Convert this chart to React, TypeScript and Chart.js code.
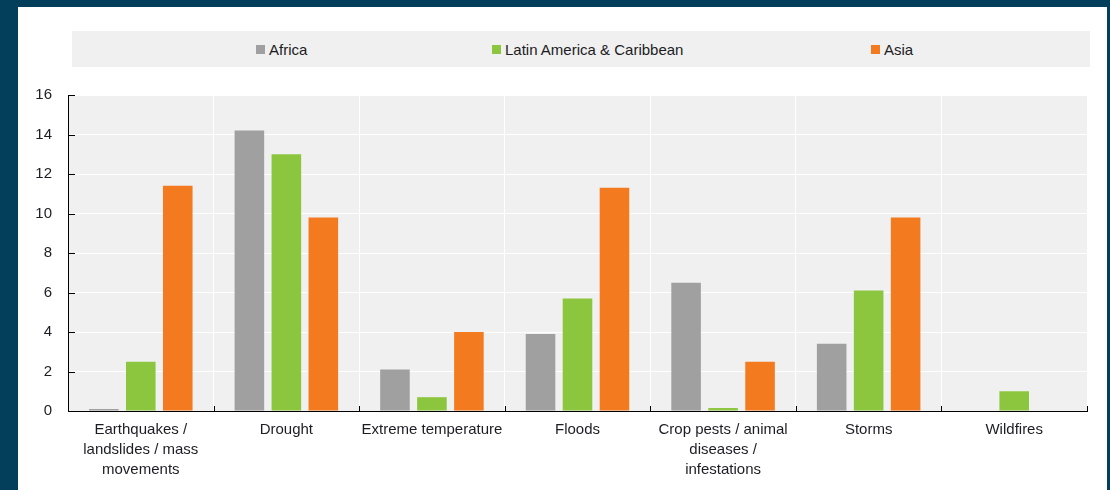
import React, { useEffect, useRef } from "react";
import { Chart, registerables } from "chart.js";

Chart.register(...registerables);

const categories: (string | string[])[] = [
  ["Earthquakes /", "landslides / mass", "movements"],
  "Drought",
  "Extreme temperature",
  "Floods",
  ["Crop pests / animal", "diseases /", "infestations"],
  "Storms",
  "Wildfires",
];

const africa = [0.1, 14.2, 2.1, 3.9, 6.5, 3.4, 0];
const latinAmerica = [2.5, 13.0, 0.7, 5.7, 0.15, 6.1, 1.0];
const asia = [11.4, 9.8, 4.0, 11.3, 2.5, 9.8, 0];

const seriesNames = ["Africa", "Latin America & Caribbean", "Asia"];
const seriesColors = ["#a0a0a0", "#8cc63f", "#f47a20"];
const yTicks = [0, 2, 4, 6, 8, 10, 12, 14, 16];

const FONT = "'Liberation Sans', Arial, sans-serif";
const TEXT = "#1c1c24";

const plotDecor = {
  id: "plotDecor",
  beforeDraw(chart: any) {
    const { ctx, chartArea } = chart;
    ctx.save();
    ctx.fillStyle = "#f0f0f0";
    ctx.fillRect(chartArea.left, chartArea.top, chartArea.right - chartArea.left, chartArea.bottom - chartArea.top);
    ctx.restore();
  },
  afterDraw(chart: any) {
    const { ctx, chartArea, scales } = chart;
    ctx.save();
    ctx.strokeStyle = "#000";
    ctx.lineWidth = 1;
    // y ticks pointing inward
    scales.y.ticks.forEach((t: any) => {
      const y = Math.round(scales.y.getPixelForValue(t.value)) + 0.5;
      ctx.beginPath();
      ctx.moveTo(chartArea.left, y);
      ctx.lineTo(chartArea.left + 7, y);
      ctx.stroke();
    });
    // x ticks at category boundaries pointing up
    const n = categories.length;
    for (let i = 1; i <= n; i++) {
      const x = Math.round(scales.x.getPixelForValue(i - 0.5)) + 0.5;
      ctx.beginPath();
      ctx.moveTo(x, chartArea.bottom);
      ctx.lineTo(x, chartArea.bottom - 5);
      ctx.stroke();
    }
    ctx.restore();
  },
};

export default function App() {
  const ref = useRef<HTMLCanvasElement>(null);

  useEffect(() => {
    if (!ref.current) return;
    const chart = new Chart(ref.current, {
      type: "bar",
      data: {
        labels: categories,
        datasets: [africa, latinAmerica, asia].map((d, i) => ({
          label: seriesNames[i],
          data: d,
          backgroundColor: seriesColors[i],
          borderWidth: 0,
          categoryPercentage: 0.762,
          barPercentage: 0.8,
        })),
      },
      options: {
        responsive: false,
        animation: false,
        layout: { padding: { left: 0, right: 23, top: 95, bottom: 0 } },
        plugins: {
          legend: { display: false },
          tooltip: { enabled: false },
        },
        scales: {
          x: {
            offset: true,
            grid: { offset: true, color: "#ffffff", lineWidth: 1, drawTicks: false },
            border: { display: true, color: "#000", width: 1 },
            ticks: {
              color: TEXT,
              font: { family: FONT, size: 15, lineHeight: 1.33 },
              padding: 9,
              maxRotation: 0,
              autoSkip: false,
            },
            afterFit(s: any) {
              s.height = 79;
            },
          },
          y: {
            min: 0,
            max: 16,
            afterBuildTicks(s: any) {
              s.ticks = yTicks.map((v) => ({ value: v }));
            },
            grid: { color: "#ffffff", lineWidth: 1, drawTicks: false },
            border: { display: true, color: "#000", width: 1 },
            ticks: {
              color: TEXT,
              font: { family: FONT, size: 15 },
              padding: 16,
            },
            afterFit(s: any) {
              s.width = 68;
            },
          },
        },
      },
      plugins: [plotDecor],
    });
    return () => chart.destroy();
  }, []);

  const legendItems = [
    { x: 256 },
    { x: 492 },
    { x: 871 },
  ];

  return (
    <div
      style={{
        position: "fixed",
        left: 0,
        top: 0,
        width: 1110,
        height: 490,
        background: "#033f5b",
        overflow: "hidden",
      }}
    >
      <div
        style={{
          position: "absolute",
          left: 18,
          top: 7,
          width: 1089,
          height: 483,
          background: "#ffffff",
        }}
      />
      <div
        style={{
          position: "absolute",
          left: 72,
          top: 31,
          width: 1018,
          height: 36,
          background: "#f0f0f0",
        }}
      />
      {seriesNames.map((name, i) => (
        <div
          key={name}
          style={{
            position: "absolute",
            left: legendItems[i].x,
            top: 39,
            height: 20,
            display: "flex",
            alignItems: "center",
            fontFamily: FONT,
            fontSize: 15,
            color: TEXT,
            whiteSpace: "nowrap",
          }}
        >
          <span
            style={{
              display: "inline-block",
              width: 9,
              height: 9,
              background: seriesColors[i],
              marginRight: 4,
            }}
          />
          <span>{name}</span>
        </div>
      ))}
      <canvas
        ref={ref}
        width={1110}
        height={490}
        style={{ position: "absolute", left: 0, top: 0, width: 1110, height: 490 }}
      />
    </div>
  );
}
